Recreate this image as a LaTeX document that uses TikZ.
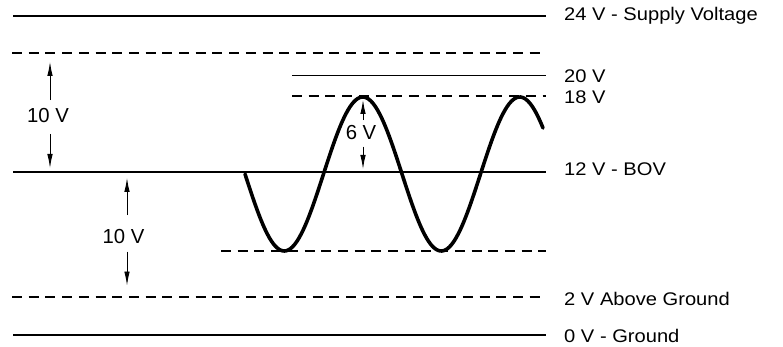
\documentclass[tikz,border=0pt]{standalone}
\usepackage{fontspec}
\newfontfamily\labfont[FakeStretch=1.1]{Liberation Sans}
\newfontfamily\dimfont{Liberation Sans}
\usetikzlibrary{arrows.meta}
\tikzset{
  level/.style={line width=2pt, line cap=butt},
  thinlevel/.style={line width=1pt},
  dashlevel/.style={line width=2pt, dash pattern=on 10pt off 6.7pt},
  wave/.style={line width=3.6pt, line cap=round},
  dimarrow/.style={line width=0.9pt, -{Latex[length=14pt,width=5.5pt]}},
  lab/.style={font=\labfont\fontsize{18.3}{22}\selectfont, inner sep=0pt, anchor=base west},
  dimlab/.style={font=\dimfont\fontsize{20.3}{24}\selectfont, inner sep=0pt},
}
\begin{document}
\begin{tikzpicture}[x=1pt,y=-1pt]
\useasboundingbox (0,0) rectangle (783,347);
% level coordinates
\coordinate (v24a) at (13,16);   \coordinate (v24b) at (546,16);
\coordinate (v22a) at (12,53);   \coordinate (v22b) at (546,53);
\coordinate (v20a) at (292,76);  \coordinate (v20b) at (546,76);
\coordinate (v18a) at (292,96);  \coordinate (v18b) at (546,96);
\coordinate (v12a) at (13,172);  \coordinate (v12b) at (546,172);
\coordinate (v6a)  at (221,251); \coordinate (v6b)  at (546,251);
\coordinate (v2a)  at (12,297);  \coordinate (v2b)  at (546,297);
\coordinate (v0a)  at (13,335);  \coordinate (v0b)  at (546,335);
% levels
\draw[level] (v24a) -- (v24b);
\draw[dashlevel] (v22a) -- (v22b);
\draw[thinlevel] (v20a) -- (v20b);
\draw[dashlevel] (v18a) -- (v18b);
\draw[level] (v12a) -- (v12b);
\draw[dashlevel] (v6a) -- (v6b);
\draw[dashlevel] (v2a) -- (v2b);
\draw[level] (v0a) -- (v0b);
% labels
\node[lab] (l24) at (564,20.7) {24 V - Supply Voltage};
\node[lab] (l20) at (564,82.7) {20 V};
\node[lab] (l18) at (564,104) {18 V};
\node[lab] (l12) at (564,176) {12 V - BOV};
\node[lab] (l2)  at (564,305) {2 V Above Ground};
\node[lab] (l0)  at (564,342.7) {0 V - Ground};
% waveform
\draw[wave] plot[domain=245:543, samples=160, smooth] (\x, {174 + 77*sin((\x-245)*2.29299)});
% dimension arrows
\node[dimlab] (d1) at (48,115.8) {10 V};
\coordinate (d1t) at (50,62);
\coordinate (d1b) at (50,168);
\draw[dimarrow] ([yshift=8.3pt]d1.north -| d1t) -- (d1t);
\draw[dimarrow] ([yshift=-10.7pt]d1.south -| d1b) -- (d1b);
\node[dimlab] (d2) at (123.5,236.5) {10 V};
\coordinate (d2t) at (127,178);
\coordinate (d2b) at (127,285.5);
\draw[dimarrow] ([yshift=14pt]d2.north -| d2t) -- (d2t);
\draw[dimarrow] ([yshift=-7.7pt]d2.south -| d2b) -- (d2b);
\node[dimlab] (d3) at (361,132.5) {6 V};
\coordinate (d3t) at (363,100);
\coordinate (d3b) at (363,169);
\draw[dimarrow] ([yshift=5pt]d3.north -| d3t) -- (d3t);
\draw[dimarrow] ([yshift=-6.7pt]d3.south -| d3b) -- (d3b);
\end{tikzpicture}
\end{document}
